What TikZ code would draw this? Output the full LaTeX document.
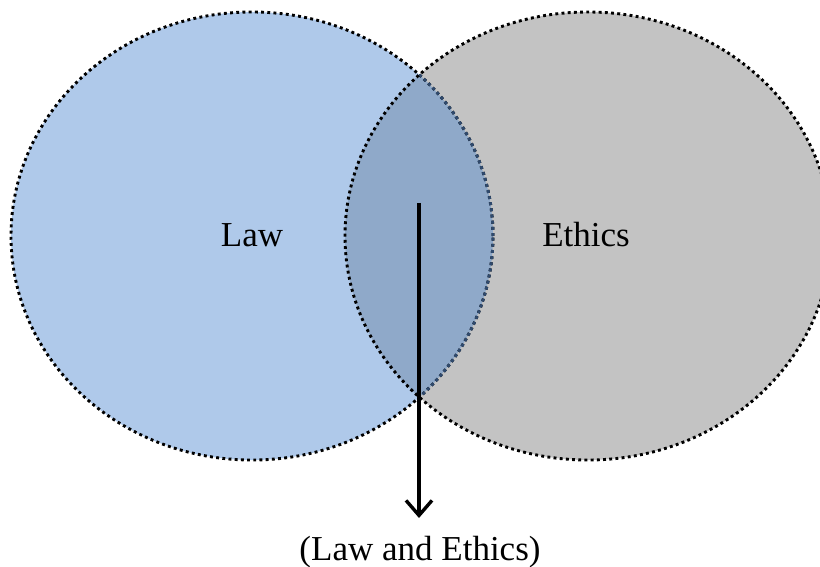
\documentclass[tikz,border=0pt]{standalone}
\usepackage{fontspec}
\setmainfont{Liberation Serif}
\usepackage{tikz}
\usetikzlibrary{arrows.meta}

\definecolor{lawblue}{RGB}{175,201,234}
\definecolor{ethicsgray}{RGB}{195,195,195}
\definecolor{bothblue}{RGB}{143,169,201}
\definecolor{rimblue}{RGB}{47,74,110}

\begin{document}
\begin{tikzpicture}[x=1bp,y=-1bp]
			\tikzstyle{every node}+=[inner sep=0pt,font=\fontsize{35bp}{42bp}\selectfont]
			\tikzstyle{rim}=[line width=2.9bp,dash pattern=on 2.9bp off 3.3bp]
			\useasboundingbox (0,0) rectangle (820,567);
			\fill [lawblue] (252,236) ellipse (241bp and 224bp);
			\fill [ethicsgray] (588,236) ellipse (243bp and 224bp);
			\begin{scope}
				\clip (252,236) ellipse (241bp and 224bp);
				\fill [bothblue] (588,236) ellipse (243bp and 224bp);
			\end{scope}
			\draw [rim,black] (252,236) ellipse (241bp and 224bp);
			\begin{scope}
				\clip (588,236) ellipse (243bp and 224bp);
				\draw [rim,rimblue] (252,236) ellipse (241bp and 224bp);
			\end{scope}
			\draw [rim,black] (588,236) ellipse (243bp and 224bp);
			\draw (252,235) node (law) {Law};
			\draw (586,235) node (ethics) {Ethics};
			\draw (420,560) node [anchor=base] (both) {(Law and Ethics)};
			\coordinate (overlap) at (419,203);
			\draw [line width=3.4bp,-{Straight Barb[length=15bp,width=26bp]}] (overlap) -- (overlap |- 0,518);
			\end{tikzpicture}
\end{document}
